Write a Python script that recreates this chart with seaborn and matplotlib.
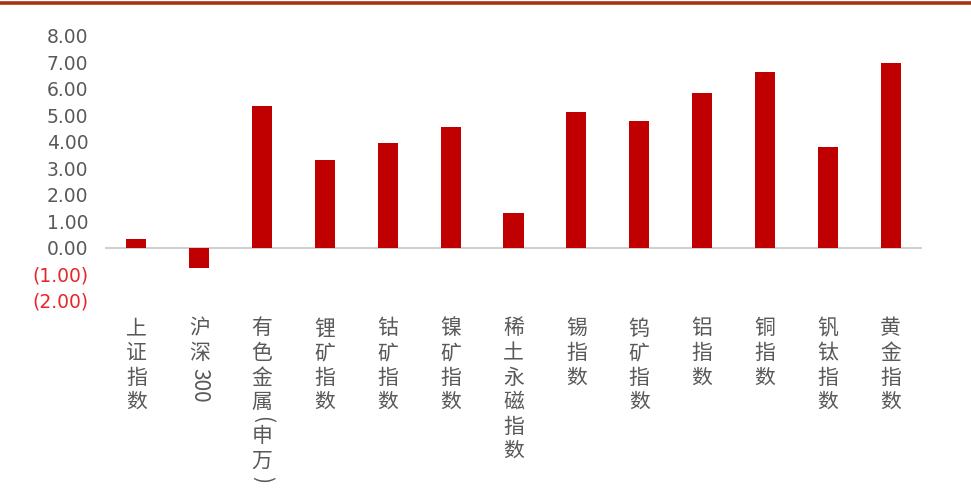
import matplotlib
matplotlib.use("Agg")
import matplotlib.pyplot as plt
import seaborn as sns
import pandas as pd

# Categories and their returns (%)
categories = ["上证指数", "沪深300", "有色金属(申万)", "锂矿指数", "钴矿指数", "镍矿指数",
              "稀土永磁指数", "锡指数", "钨矿指数", "铝指数", "铜指数", "钒钛指数", "黄金指数"]
values = [0.32, -0.79, 5.36, 3.31, 3.96, 4.54, 1.29, 5.13, 4.77, 5.83, 6.64, 3.81, 6.98]
y_ticks = [-2, -1, 0, 1, 2, 3, 4, 5, 6, 7, 8]

sns.set_theme(style="white")
plt.rcParams["font.family"] = ["Noto Sans CJK SC", "DejaVu Sans"]

df = pd.DataFrame({"name": categories, "value": values})

fig = plt.figure(figsize=(9.71, 5.01), dpi=100)
ax = fig.add_axes([105 / 971, 1 - 300.5 / 501, (922 - 105) / 971, (300.5 - 35.8) / 501])

sns.barplot(data=df, x="name", y="value", color="#C00000", width=0.32,
            saturation=1, ax=ax, linewidth=0)

ax.set_ylim(-2, 8)
ax.set_xlim(-0.5, len(categories) - 0.5)
ax.set_yticks(y_ticks)
ylabels = []
for t in y_ticks:
    ylabels.append(f"({abs(t):.2f})" if t < 0 else f"{t:.2f}")
ax.set_yticklabels(ylabels)
for lab, t in zip(ax.get_yticklabels(), y_ticks):
    lab.set_color("#E8262B" if t < 0 else "#595959")
    lab.set_fontsize(13.5)
    lab.set_fontfamily(["DejaVu Sans"])
ax.tick_params(axis="y", length=0, pad=12)
ax.tick_params(axis="x", length=0)
ax.set_xticks(range(len(categories)))
ax.set_xticklabels([""] * len(categories))
ax.set_xlabel("")
ax.set_ylabel("")
for s in ax.spines.values():
    s.set_visible(False)
ax.axhline(0, color="#D0D0D0", lw=1.5, zorder=0)
ax.patch.set_alpha(0)

# Vertical category labels: CJK characters stacked, Latin/digit runs rotated
renderer = fig.canvas.get_renderer()
trans = ax.get_xaxis_transform()
fs = 15
row = 24.5
start = 17
for i, name in enumerate(categories):
    runs = []
    for ch in name:
        cjk = ord(ch) > 0x2E80
        if not cjk and runs and not runs[-1][1]:
            runs[-1][0] += ch
        else:
            runs.append([ch, cjk])
    off = start
    for txt, cjk in runs:
        if cjk:
            ax.annotate(txt, xy=(i, 0), xycoords=trans, xytext=(0, -off),
                        textcoords="offset pixels", ha="center", va="top",
                        fontsize=fs, color="#595959", annotation_clip=False)
            off += row
        else:
            a = ax.annotate(txt, xy=(i, 0), xycoords=trans, xytext=(0, -off - 1),
                            textcoords="offset pixels", ha="center", va="top",
                            rotation=-90, fontsize=fs, color="#595959",
                            annotation_clip=False)
            h = a.get_window_extent(renderer).height
            off += h + 3

# Header rule
fig.add_artist(plt.Line2D([0, 1], [1 - 3.3 / 501, 1 - 3.3 / 501],
                          transform=fig.transFigure, color="#A83214", lw=2.6))

fig.savefig("out.png", dpi=100, facecolor="white")
